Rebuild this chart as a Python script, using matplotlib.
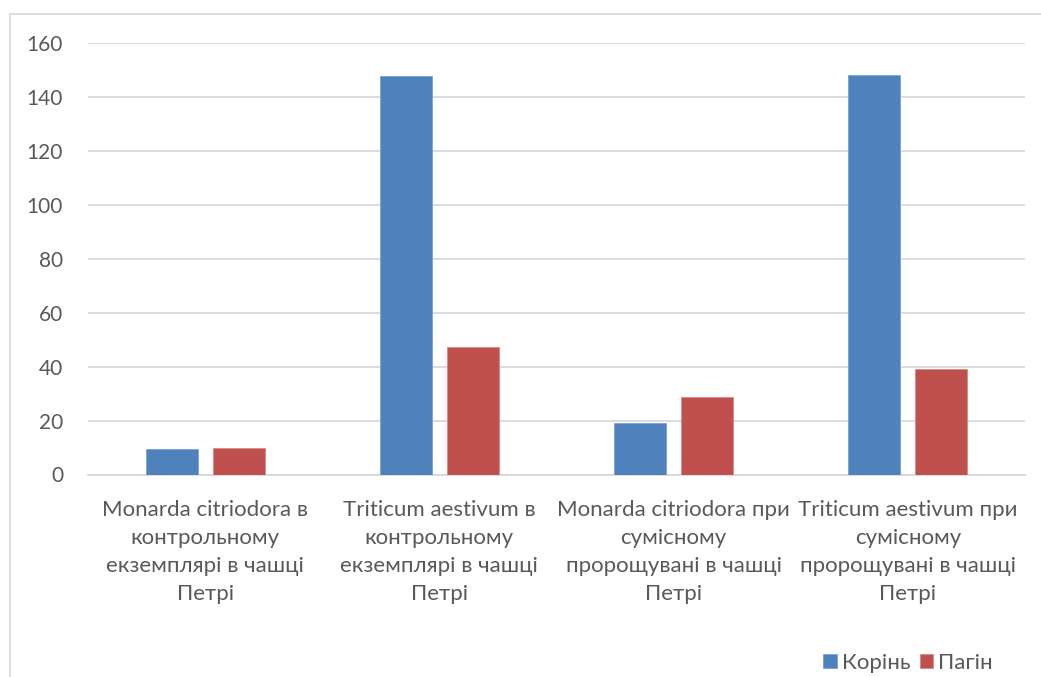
import matplotlib.pyplot as plt
import matplotlib.lines as mlines
import numpy as np

categories = [
    "Monarda citriodora в\nконтрольному\nекземплярі в чашці\nПетрі",
    "Triticum aestivum в\nконтрольному\nекземплярі в чашці\nПетрі",
    "Monarda citriodora при\nсумісному\nпророщувані в чашці\nПетрі",
    "Triticum aestivum при\nсумісному\nпророщувані в чашці\nПетрі",
]
root = [9.3, 147.6, 18.9, 148.0]
shoot = [9.8, 47.1, 28.7, 39.2]
series_names = ["Корінь", "Пагін"]
yticks = [0, 20, 40, 60, 80, 100, 120, 140, 160]

plt.rcParams['font.family'] = ['Lato', 'DejaVu Sans']
text_color = "#595959"
grid_color = "#d9d9d9"

fig = plt.figure(figsize=(10.41, 6.77), dpi=100)
ax = fig.add_axes([88 / 1041, 1 - 474.5 / 677, (1025 - 88) / 1041, (474.5 - 42.7) / 677])

x = np.arange(len(categories))
w = 0.222
off = 0.143
ax.bar(x - off, root, w, color="#4f81bd", edgecolor="#7ba0d4", linewidth=0.6, label=series_names[0], zorder=3)
ax.bar(x + off, shoot, w, color="#c0504d", edgecolor="#d88a88", linewidth=0.6, label=series_names[1], zorder=3)

ax.set_xlim(-0.5, len(categories) - 0.5)
ax.set_ylim(0, 160)
ax.set_yticks(yticks)
ax.set_xticks(x)
ax.set_xticklabels(categories, fontsize=16, color=text_color, linespacing=1.5)
ax.tick_params(axis='y', labelsize=15, labelcolor=text_color, length=0, pad=18)
ax.tick_params(axis='x', length=0, pad=18.5)
ax.grid(axis='y', color=grid_color, linewidth=1.3, zorder=0)
for s in ["left", "right", "top"]:
    ax.spines[s].set_visible(False)
ax.spines["bottom"].set_color(grid_color)
ax.spines["bottom"].set_linewidth(1.3)

leg = fig.legend(loc="center right", bbox_to_anchor=(1002 / 1041, 1 - 663 / 677), ncol=2,
                 frameon=False, fontsize=16, handlelength=0.6, handleheight=0.6,
                 handletextpad=0.25, columnspacing=0.4, borderaxespad=0)
for t in leg.get_texts():
    t.set_color(text_color)

# chart area border (top and left edges)
fig.add_artist(mlines.Line2D([10 / 1041, 1.0], [1 - 13.5 / 677] * 2, color=grid_color, linewidth=1.3))
fig.add_artist(mlines.Line2D([10 / 1041] * 2, [0.0, 1 - 13.5 / 677], color=grid_color, linewidth=1.3))

fig.savefig("out.png", dpi=100)
